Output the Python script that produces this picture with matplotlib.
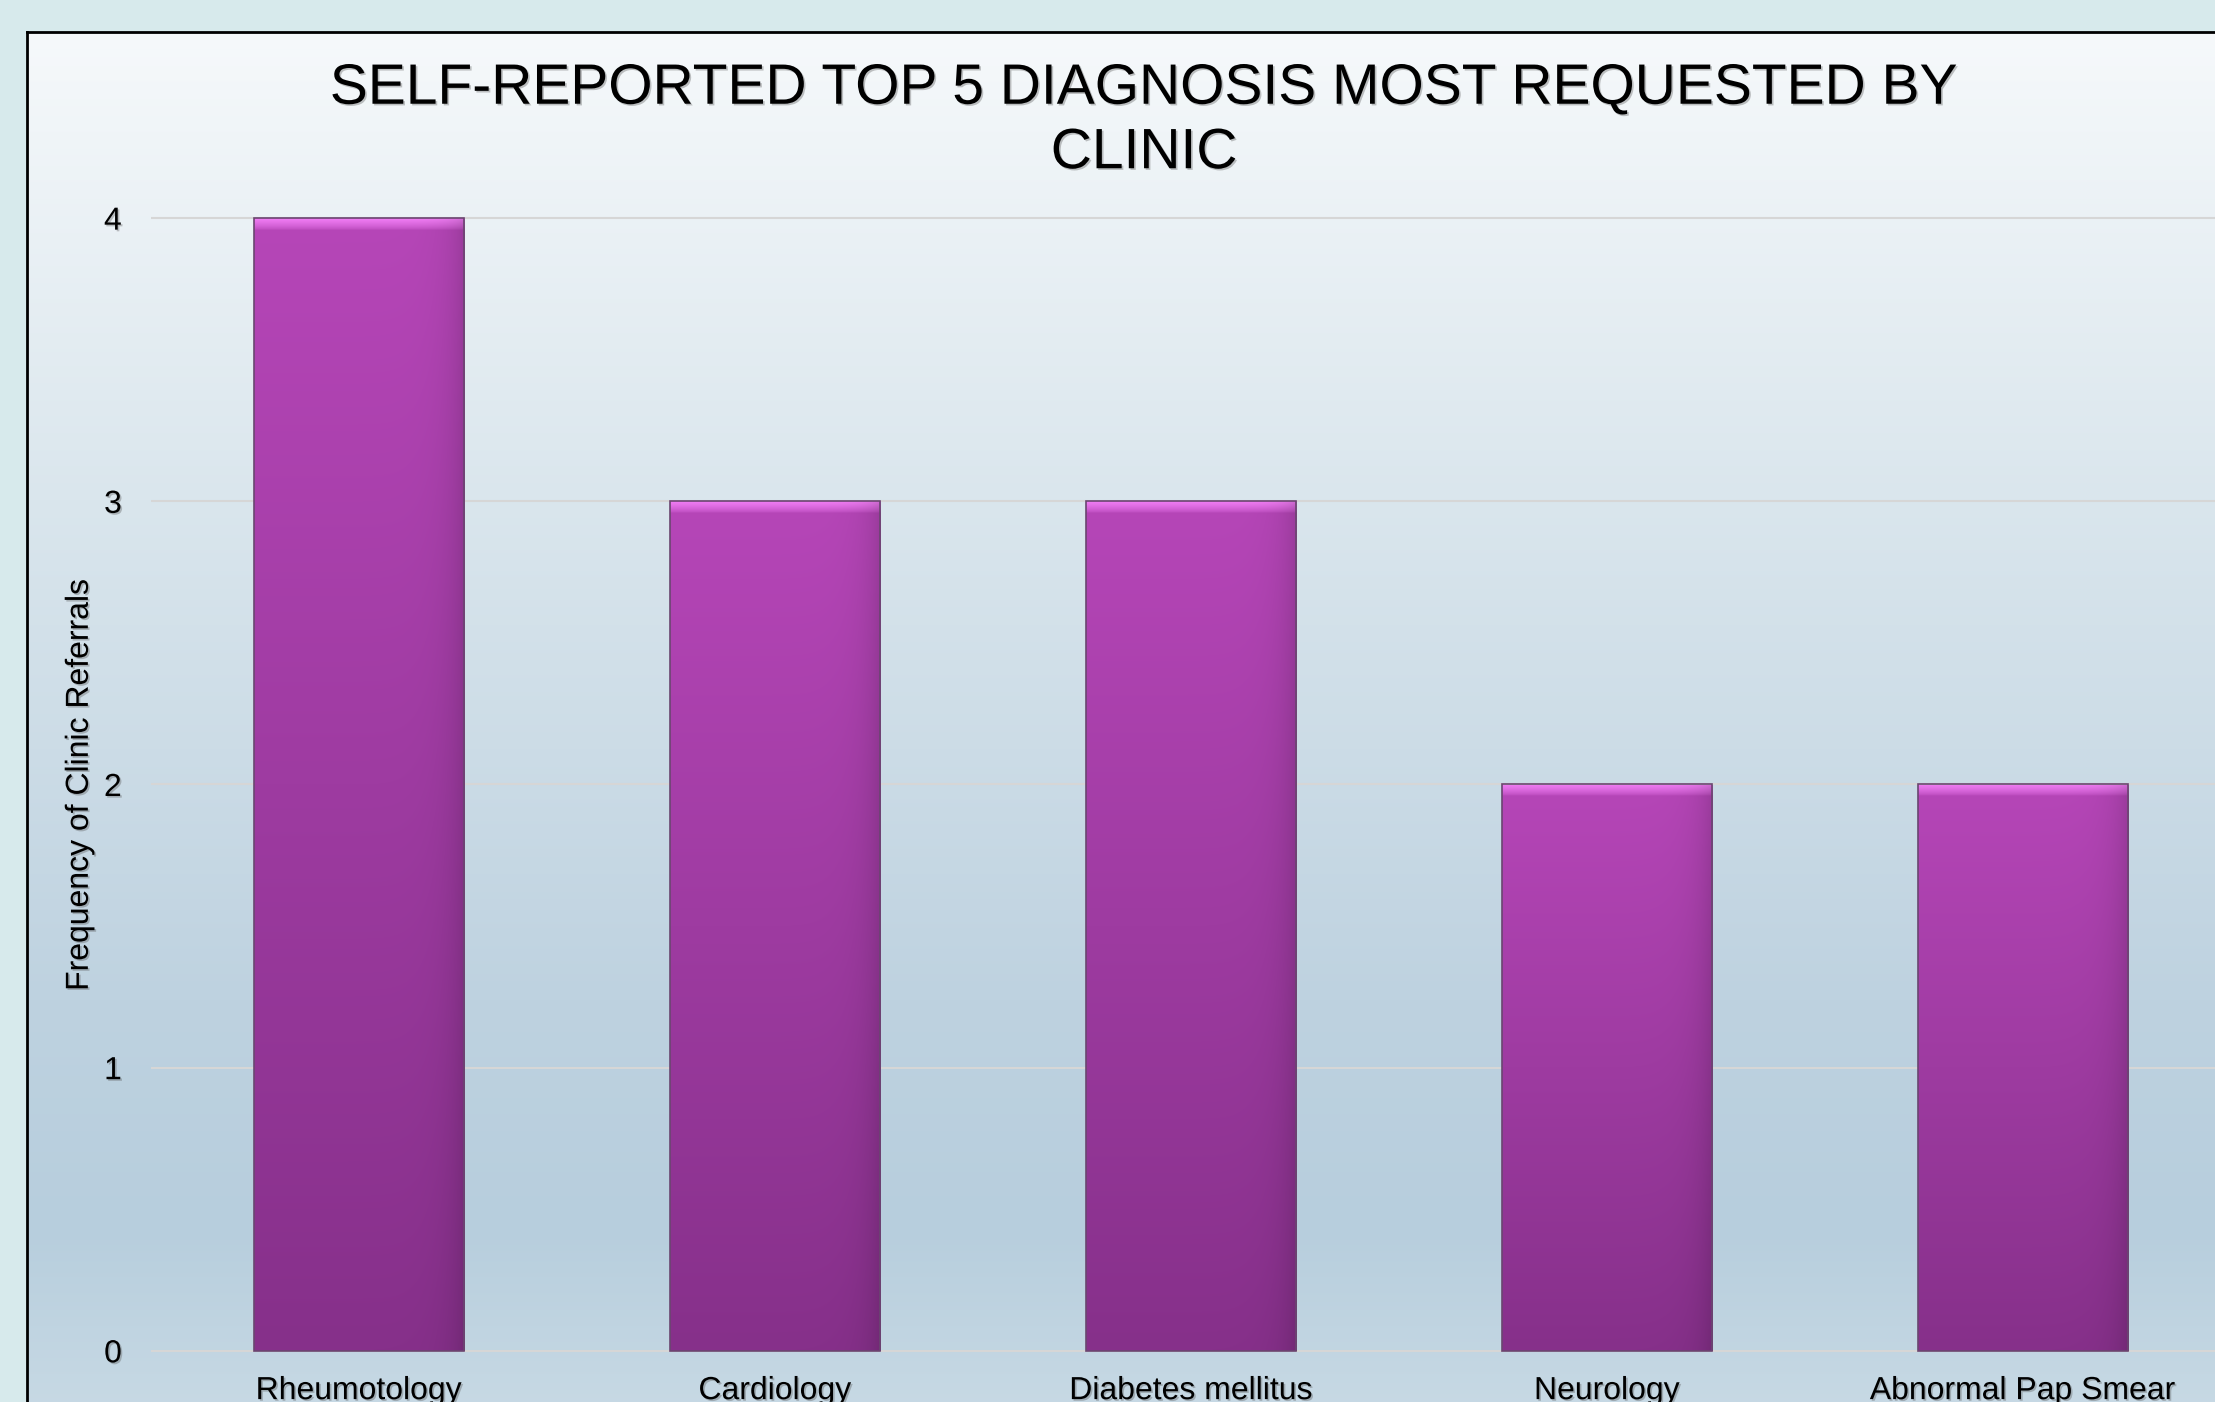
import numpy as np
import matplotlib.pyplot as plt
import matplotlib.patheffects as pe
from matplotlib.colors import to_rgb

categories = ['Rheumotology', 'Cardiology', 'Diabetes mellitus', 'Neurology', 'Abnormal Pap Smear']
referrals = [4, 3, 3, 2, 2]
yticks = [0, 1, 2, 3, 4]
title = 'SELF-REPORTED TOP 5 DIAGNOSIS MOST REQUESTED BY\nCLINIC'
ylabel = 'Frequency of Clinic Referrals'

plt.rcParams['font.family'] = ['Liberation Sans', 'DejaVu Sans']

W, H = 2215, 1402
fig = plt.figure(figsize=(W / 100, H / 100), dpi=100, facecolor='#d7eaec')
shadow = [pe.withSimplePatchShadow(offset=(1.2, -1.2), shadow_rgbFace='#555555', alpha=0.35)]

# framed panel with soft vertical gradient
bg = fig.add_axes([27 / W, -0.05, 1.0, (H - 32) / H + 0.05])
stops_y = [32, 500, 1000, 1230, 1472]
stops_c = ['#f6f9fb', '#dae6ed', '#bed2e0', '#b7cedd', '#cddde7']
rows = np.linspace(32, 1472, 600)
rgb = np.array([to_rgb(c) for c in stops_c])
grad = np.stack([np.interp(rows, stops_y, rgb[:, k]) for k in range(3)], axis=-1)
bg.imshow(grad[:, None, :], extent=[0, 1, 0, 1], aspect='auto', interpolation='bilinear')
bg.set_xticks([])
bg.set_yticks([])
for s in bg.spines.values():
    s.set_color('black')
    s.set_linewidth(2)

# plot area
ax = fig.add_axes([151 / W, (H - 1365) / H, 2080 / W, 1161 / H])
ax.set_facecolor('none')
x = np.arange(len(categories))
bw = 0.505
bars = ax.bar(x, referrals, width=bw, color='none', edgecolor='#6a4670', lw=1.2, zorder=3)

top_c = np.array(to_rgb('#b646b8'))
bot_c = np.array(to_rgb('#86308a'))
pink = np.array(to_rgb('#f480f8'))
unit_px = 1133 / 4
for b, h in zip(bars, referrals):
    n = 600
    t = np.linspace(0, 1, n)[:, None]
    img = top_c * (1 - t) + bot_c * t
    # bevel highlight along the top edge
    bev = int(n * 12 / (h * unit_px)) + 1
    fade = np.linspace(0.9, 0, bev)[:, None] ** 0.7
    img[:bev] = pink * fade + img[:bev] * (1 - fade)
    img = np.repeat(img[:, None, :], 60, axis=1)
    # slight shading at the right edge
    side = np.linspace(0, 1, 60) ** 12 * 0.14
    img = img * (1 - side[None, :, None])
    im = ax.imshow(img, extent=[b.get_x(), b.get_x() + bw, 0, h],
                   aspect='auto', zorder=2, interpolation='bilinear')
    im.set_clip_path(b)

ax.set_xlim(-0.5, 4.5)
ax.set_ylim(-0.05, 4.05)
ax.set_yticks(yticks)
ax.set_xticks(x)
ax.set_xticklabels(categories, fontsize=23, path_effects=shadow)
ax.set_yticklabels([str(v) for v in yticks], fontsize=23, path_effects=shadow)
ax.tick_params(length=0)
ax.tick_params(axis='y', pad=21)
ax.tick_params(axis='x', pad=8)
ax.set_axisbelow(True)
ax.yaxis.grid(True, color='#d6d6d6', lw=1.5)
for s in ax.spines.values():
    s.set_visible(False)

ax.set_ylabel(ylabel, fontsize=23, path_effects=shadow)
ax.yaxis.set_label_coords(-0.027, 0.5)

fig.text(1144 / W, 1 - 121 / H, title, ha='center', va='center', fontsize=41,
         linespacing=1.25, path_effects=shadow)

fig.savefig('out.png', dpi=100, facecolor=fig.get_facecolor())
